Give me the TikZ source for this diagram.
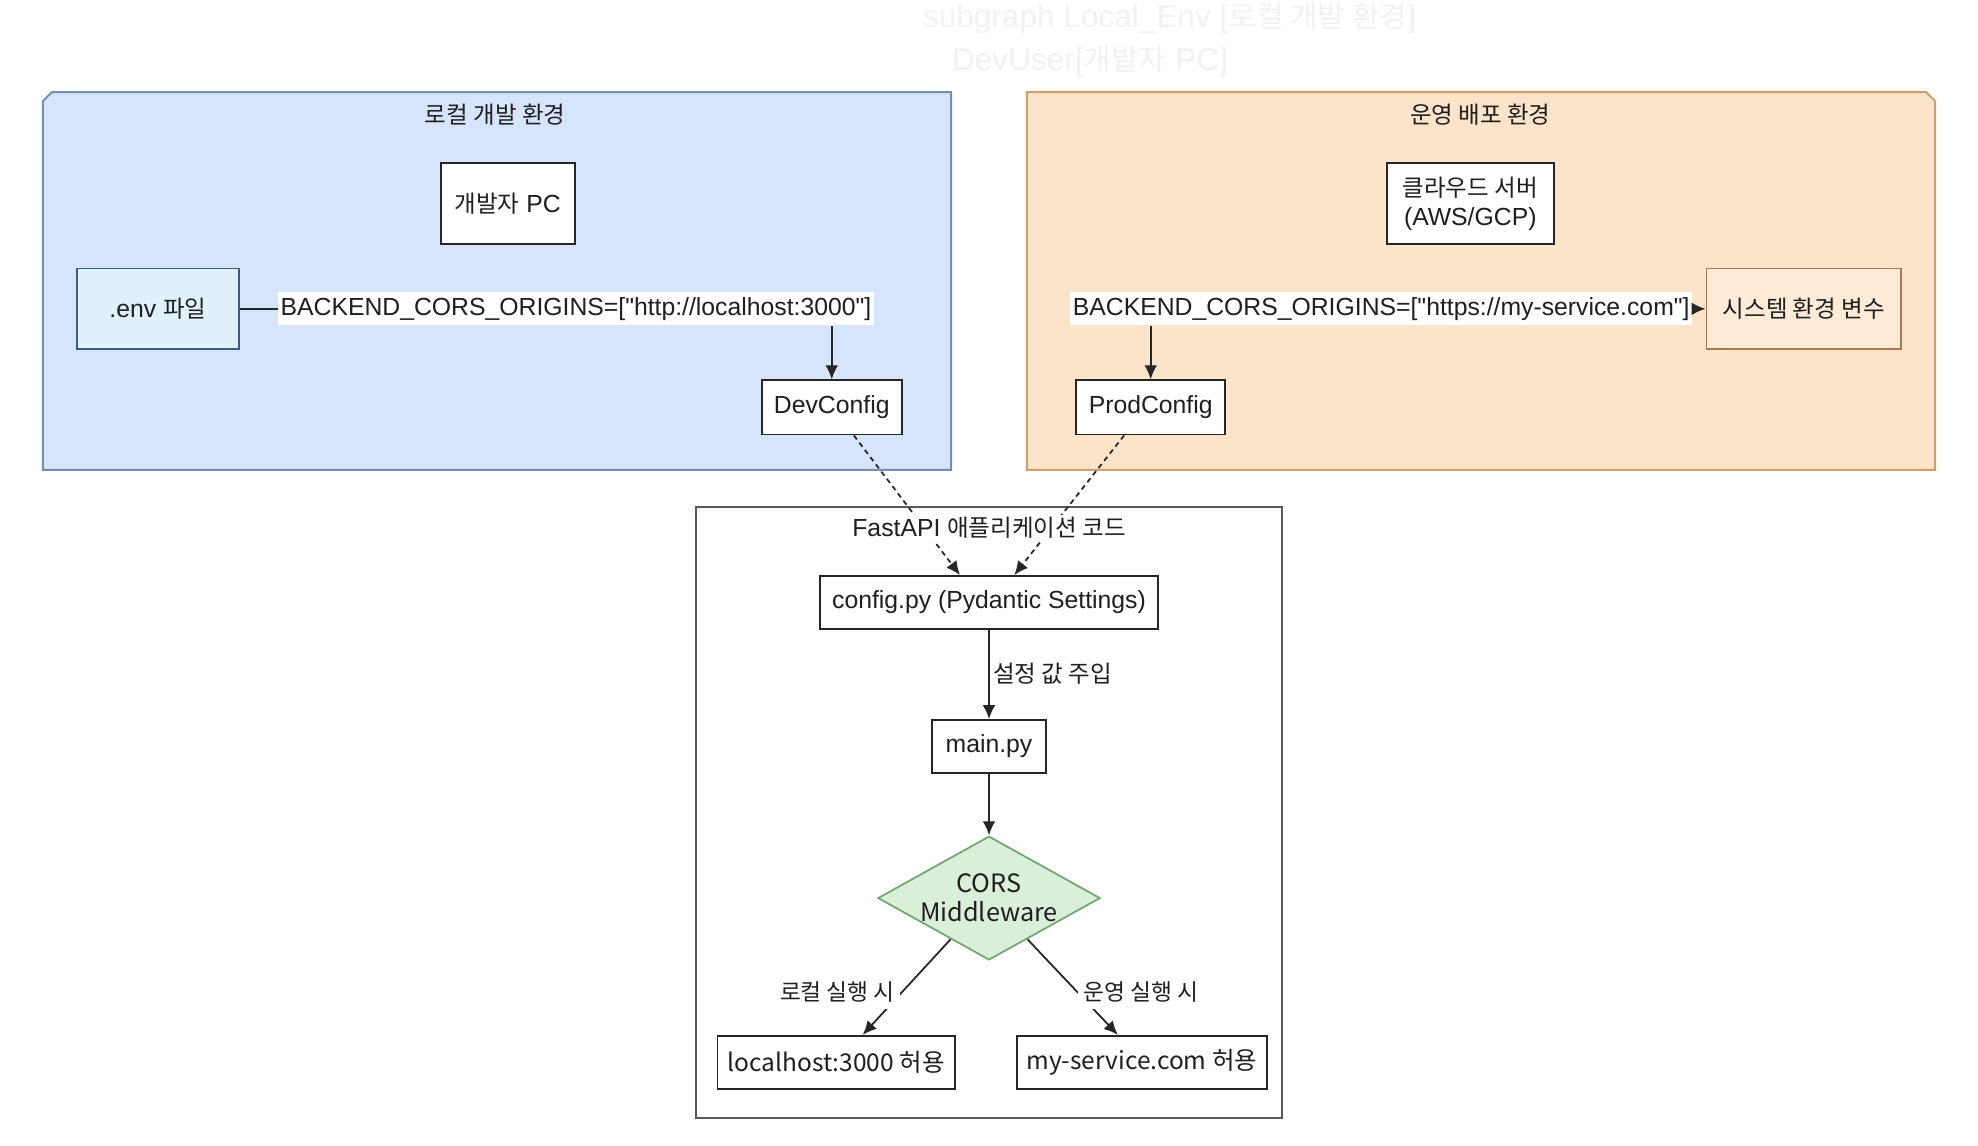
\documentclass[tikz,border=0pt]{standalone}
\usepackage{fontspec}
\setmainfont{Liberation Sans}[Ligatures=TeXOff]
\newfontfamily\kr[Scale=0.95]{Noto Sans CJK KR}
\newfontfamily\krn{Noto Sans CJK KR}
\usetikzlibrary{arrows.meta,shapes.geometric}
\definecolor{lbfill}{HTML}{D6E5FB}
\definecolor{lbdraw}{HTML}{7290AE}
\definecolor{envfill}{HTML}{DFF1FB}
\definecolor{envdraw}{HTML}{3E5B78}
\definecolor{orfill}{HTML}{FCE4CA}
\definecolor{ordraw}{HTML}{CF9F6A}
\definecolor{sysfill}{HTML}{FDEBD7}
\definecolor{sysdraw}{HTML}{A97A4B}
\definecolor{grfill}{HTML}{DAEFDA}
\definecolor{grdraw}{HTML}{72A772}
\definecolor{ghost}{HTML}{F2F2F2}
\tikzset{
  every node/.style={font=\fontsize{9.8}{11.5}\selectfont, text=black!88},
  box/.style={draw=black!85, fill=white, line width=0.7pt, inner sep=0pt, align=center},
  botbox/.style={box, font=\krn\fontsize{9.7}{11.5}\selectfont},
  lbl/.style={fill=white, inner xsep=1pt, inner ysep=2pt},
  arr/.style={-{Latex[length=5.5pt,width=5pt]}, line width=0.7pt, draw=black!85},
  plain/.style={line width=0.7pt, draw=black!85},
  dashedarr/.style={arr, dash pattern=on 2pt off 1.6pt},
  ghosttext/.style={text=ghost, font=\fontsize{12.5}{14}\selectfont, inner sep=0pt}
}
\begin{document}
\begin{tikzpicture}[x=0.5pt, y=-0.5pt]
\useasboundingbox (0,0) rectangle (1566,907);
\fill[white] (0,0) rectangle (1566,907);

% faint leftover text at the top
\node[ghosttext, anchor=base] (g1) at (926,22) {subgraph Local\_Env [{\kr 로컬 개발 환경}]};
\node[ghosttext, anchor=base] (g2) at (863,56) {DevUser[{\kr 개발자} PC]};

% panels
\draw[fill=lbfill, draw=lbdraw, line width=0.8pt]
  (41,73) -- (753,73) -- (753,372) -- (34,372) -- (34,80) -- cycle;
\draw[fill=orfill, draw=ordraw, line width=0.8pt]
  (813,73) -- (1525,73) -- (1532,80) -- (1532,372) -- (813,372) -- cycle;
\node (t1) at (392,91) {\kr 로컬 개발 환경};
\node (t2) at (1172,91) {\kr 운영 배포 환경};

% middle container
\draw[draw=black!65, fill=white, line width=0.8pt] (551,401) rectangle (1015,885);

% local nodes
\node[box, minimum width=53pt, minimum height=32pt] (pc) at (402,161) {{\kr 개발자} PC};
\node[box, fill=envfill, draw=envdraw, minimum width=64pt, minimum height=32pt] (env) at (125,244.5) {.env {\kr 파일}};
\node[lbl] (l1) at (456,244.5) {BACKEND\_CORS\_ORIGINS=["http://localhost:3000"]};
\node[box, minimum width=55.5pt, minimum height=21.5pt] (dev) at (658.5,322.5) {DevConfig};

% prod nodes
\node[box, minimum width=66pt, minimum height=32pt] (cloud) at (1164,161) {{\kr 클라우드 서버}\\(AWS/GCP)};
\node[box, fill=sysfill, draw=sysdraw, minimum width=77pt, minimum height=32pt] (sys) at (1428,244.5) {\kr 시스템 환경 변수};
\node[lbl] (l2) at (1093.5,244.5) {BACKEND\_CORS\_ORIGINS=["https://my-service.com"]};
\node[box, minimum width=59pt, minimum height=21.5pt] (prod) at (911,322.5) {ProdConfig};

% app nodes
\node[box, minimum width=134pt, minimum height=21pt] (cfg) at (783,477) {config.py (Pydantic Settings)};
\node[box, minimum width=45pt, minimum height=21pt] (main) at (783,591) {main.py};
\node[diamond, draw=grdraw, fill=grfill, line width=0.7pt, inner sep=0pt,
      minimum width=88pt, minimum height=49pt] (cors) at (783,711) {};
\node[font=\krn\fontsize{10}{11.5}\selectfont, align=center] (corst) at (cors.center) {CORS\\Middleware};
\node[botbox, minimum width=94pt, minimum height=21pt] (loc) at (662,841) {localhost:3000 허용};
\node[botbox, minimum width=99pt, minimum height=21pt] (ms) at (904,841) {my-service.com 허용};

% connectors
\draw[plain] (env.east) -- (l1.west);
\draw[arr] (l1.south -| dev.north) -- (dev.north);
\draw[arr] (l2.east) -- (sys.west);
\draw[arr] (l2.south -| prod.north) -- (prod.north);

\draw[dashedarr] ([xshift=8.75pt]dev.south) -- ([xshift=-11.5pt]cfg.north);
\draw[dashedarr] ([xshift=-10.5pt]prod.south) -- ([xshift=10pt]cfg.north);
\node[fill=white, inner xsep=1pt, inner ysep=1pt] (t3) at (783,418) {FastAPI {\kr 애플리케이션 코드}};

\draw[arr] (cfg.south) -- (main.north);
\node[anchor=west, inner sep=0pt] (inj) at (786,533) {\kr 설정 값 주입};
\draw[arr] (main.south) -- (cors.north);

\draw[arr] (cors.227) -- ([xshift=10.5pt]loc.north);
\draw[arr] (cors.313) -- ([xshift=-9.5pt]ms.north);
\node[fill=white, inner xsep=2pt, inner ysep=3pt, font=\krn\fontsize{9}{10}\selectfont] (lr) at (663,785) {로컬 실행 시};
\node[fill=white, inner xsep=2pt, inner ysep=3pt, font=\krn\fontsize{9}{10}\selectfont] (pr) at (903,785) {운영 실행 시};
\end{tikzpicture}
\end{document}
